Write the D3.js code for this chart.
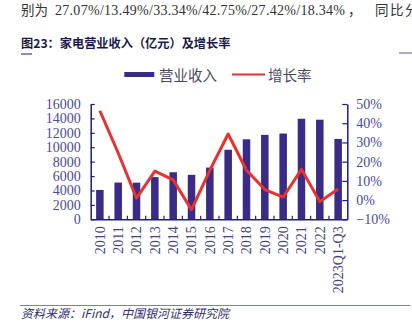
<!DOCTYPE html>
<html><head><meta charset="utf-8">
<script src="https://cdn.jsdelivr.net/npm/d3@7"></script>
<style>
html,body{margin:0;padding:0;background:#fff;}
svg{display:block;}
</style></head>
<body>
<svg id="c" width="412" height="325"></svg>
<script>
const categories = ["2010","2011","2012","2013","2014","2015","2016","2017","2018","2019","2020","2021","2022","2023Q1-Q3"];
const revenue = [4070, 5100, 5080, 5850, 6530, 6170, 7180, 9650, 11100, 11720, 11900, 13950, 13820, 11150];
const growth = [46.5, 24.5, 1.0, 15.1, 10.5, -5.0, 15.5, 34.4, 15.5, 5.5, 1.5, 16.0, -0.8, 5.8];
const leftTicks = [0, 2000, 4000, 6000, 8000, 10000, 12000, 14000, 16000];
const rightTicks = [-10, 0, 10, 20, 30, 40, 50];
const introParts = ["别为", "27.07%/13.49%/33.34%/42.75%/27.42%/18.34%", "，", "同比分"];
const titleText = "图23：家电营业收入（亿元）及增长率";
const legendLabels = ["营业收入", "增长率"];
const sourceText = "资料来源：iFind，中国银河证券研究院";

const svg = d3.select("#c");
const barColor = "#3a2b86", lineColor = "#e83130", axisColor = "#1c1c8c", tickText = "#4a4a9c";
const serif = "'Liberation Serif','Times New Roman',serif";
const cjk = "'Noto Sans CJK SC','Noto Sans',sans-serif";

const L = 90.7, R = 347.3, B = 219.3, T = 104;
const x = d3.scaleBand().domain(categories).range([L, R]).paddingInner(0.59).paddingOuter(0.295);
const yL = d3.scaleLinear().domain([0, 16000]).range([B, T]);
const yR = d3.scaleLinear().domain([-10, 50]).range([B, T]);
const step = x.step();

// intro text
const intro = svg.append("g").attr("fill", "#333").attr("font-size", 14);
intro.append("text").attr("x", 21).attr("y", 15).attr("font-family", cjk).attr("font-size", 13.5).text(introParts[0]);
intro.append("text").attr("x", 55).attr("y", 15).attr("font-family", serif).attr("textLength", 290).attr("lengthAdjust", "spacing").text(introParts[1]);
intro.append("text").attr("x", 348).attr("y", 15).attr("font-family", cjk).attr("font-size", 13.5).text(introParts[2]);
intro.append("text").attr("x", 375).attr("y", 15).attr("font-family", cjk).attr("font-size", 13.5).attr("letter-spacing", 1.5).text(introParts[3]);

// title
svg.append("text").attr("x", 21).attr("y", 48).attr("font-size", 12.2).attr("font-weight", "bold")
  .attr("fill", "#1a1a4a").attr("font-family", cjk).text(titleText);
svg.append("line").attr("x1", 21).attr("x2", 32).attr("y1", 54).attr("y2", 54).attr("stroke", "#1a1a6a").attr("stroke-width", 1);
svg.append("line").attr("x1", 399).attr("x2", 412).attr("y1", 53).attr("y2", 53).attr("stroke", "#5a5a8a").attr("stroke-width", 1);

// legend
const lg = svg.append("g");
lg.append("rect").attr("x", 124.3).attr("y", 72).attr("width", 30).attr("height", 5).attr("fill", barColor);
lg.append("text").attr("x", 159).attr("y", 80.5).attr("font-size", 14.5).attr("fill", "#4a4a66").attr("font-family", cjk).text(legendLabels[0]);
lg.append("line").attr("x1", 232).attr("x2", 265).attr("y1", 74.5).attr("y2", 74.5).attr("stroke", lineColor).attr("stroke-width", 2.2);
lg.append("text").attr("x", 268).attr("y", 80.5).attr("font-size", 14.5).attr("fill", "#4a4a66").attr("font-family", cjk).text(legendLabels[1]);

// bars
svg.append("g").selectAll("rect").data(categories).join("rect")
  .attr("x", d => x(d)).attr("width", x.bandwidth())
  .attr("y", (d, i) => yL(revenue[i])).attr("height", (d, i) => B - yL(revenue[i]))
  .attr("fill", barColor);

// left axis
const gl = svg.append("g").attr("transform", `translate(${L},0)`)
  .call(d3.axisLeft(yL).tickValues(leftTicks).tickSizeInner(-4).tickSizeOuter(0).tickPadding(10).tickFormat(d3.format("d")));
gl.select(".domain").attr("stroke", axisColor).attr("stroke-width", 1.5);
gl.selectAll(".tick line").attr("stroke", axisColor).attr("stroke-width", 1.2);
gl.selectAll("text").attr("font-family", serif).attr("font-size", 14).attr("fill", tickText);

// right axis
const gr = svg.append("g").attr("transform", `translate(${R},0)`)
  .call(d3.axisRight(yR).tickValues(rightTicks).tickSizeInner(-5).tickSizeOuter(0).tickPadding(9).tickFormat(d => (d < 0 ? "\u2212" + Math.abs(d) : d) + "%"));
gr.select(".domain").attr("stroke", axisColor).attr("stroke-width", 1.5);
gr.selectAll(".tick line").attr("stroke", axisColor).attr("stroke-width", 1.2);
gr.selectAll("text").attr("font-family", serif).attr("font-size", 14).attr("fill", tickText);

// bottom axis
const gb = svg.append("g").attr("transform", `translate(0,${B})`)
  .call(d3.axisBottom(x).tickSize(0).tickSizeOuter(0));
gb.select(".domain").attr("stroke", axisColor).attr("stroke-width", 1.5);
gb.selectAll(".tick text").attr("transform", "rotate(-90)").attr("x", -7).attr("y", 0).attr("dy", "0.35em")
  .attr("text-anchor", "end").attr("font-family", serif).attr("font-size", 14).attr("fill", "#44447a");
gb.selectAll(".tick line").remove();
gb.append("g").selectAll("line").data(categories.slice(1)).join("line")
  .attr("x1", d => x(d) + x.bandwidth() / 2 - step / 2).attr("x2", d => x(d) + x.bandwidth() / 2 - step / 2)
  .attr("y1", 0).attr("y2", -3.5).attr("stroke", axisColor).attr("stroke-width", 1.2);

// growth line
const line = d3.line().x((d, i) => x(categories[i]) + x.bandwidth() / 2).y(d => yR(d));
svg.append("path").datum(growth).attr("d", line).attr("fill", "none")
  .attr("stroke", lineColor).attr("stroke-width", 3).attr("stroke-linejoin", "round");

// footer
svg.append("line").attr("x1", 20).attr("x2", 410).attr("y1", 305.5).attr("y2", 305.5).attr("stroke", "#7d7dbb").attr("stroke-width", 1);
svg.append("text").attr("x", 21).attr("y", 318).attr("font-size", 12).attr("font-style", "italic")
  .attr("fill", "#2e2e6a").attr("font-family", cjk).text(sourceText);
</script>
</body></html>
